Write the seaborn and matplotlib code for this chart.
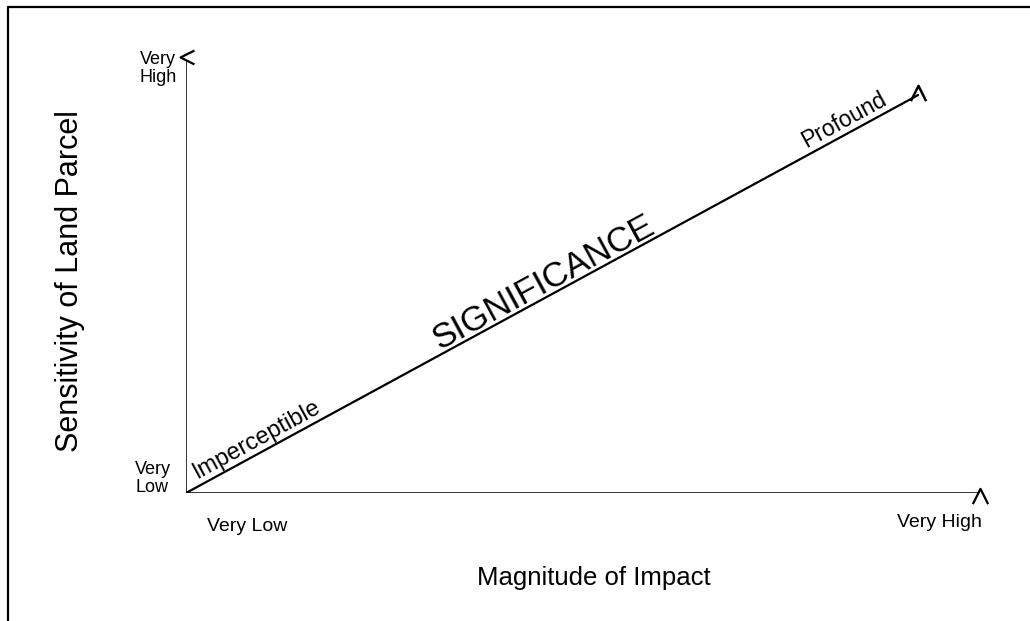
import matplotlib
matplotlib.use('Agg')

import numpy as np
import pandas as pd
import seaborn as sns
import matplotlib.pyplot as plt
from matplotlib.lines import Line2D

# axis ends (magnitude / sensitivity scaled 0..1)
x_axis_x = [0.0, 1.0]
x_axis_y = [0.0, 0.0]
y_axis_x = [0.0, 0.0]
y_axis_y = [0.0, 1.0]
diag_x = [0.0, 0.922]
diag_y = [0.0, 0.919]

x_tick_labels = ["Very Low", "Very High"]
y_tick_labels = ["Very\nLow", "Very\nHigh"]
line_labels = ["Imperceptible", "SIGNIFICANCE", "Profound"]

sns.set_style("white")
plt.rcParams['font.family'] = ['Liberation Sans', 'DejaVu Sans']
plt.rcParams['text.color'] = 'black'

W, H = 1030, 621
fig = plt.figure(figsize=(W / 100, H / 100), dpi=100)
ax = fig.add_axes([186 / W, (H - 493) / H, (980 - 186) / W, (493 - 60) / H])
ax.set_xlim(0, 1)
ax.set_ylim(0, 1)
ax.axis('off')

for xs, ys, w in [(x_axis_x, x_axis_y, 1.1), (y_axis_x, y_axis_y, 1.1), (diag_x, diag_y, 1.6)]:
    sns.lineplot(x=xs, y=ys, ax=ax, color='black', lw=w, sort=False, estimator=None)

# chevron arrow heads
up = [(-1, -1), (0, 1), (1, -1)]
left = [(1, 1), (-1, 0), (1, -1)]
ax.plot(x_axis_x[-1], x_axis_y[-1] - 0.008, marker=up, ms=11, mfc='none',
        mec='black', mew=1.6, clip_on=False)
ax.plot(diag_x[-1], diag_y[-1] + 0.005, marker=up, ms=11, mfc='none',
        mec='black', mew=1.8, clip_on=False)
ax.plot(y_axis_x[-1] + 0.001, y_axis_y[-1] + 0.008, marker=left, ms=10, mfc='none',
        mec='black', mew=1.6, clip_on=False)

# end labels
ax.text(0.077, -0.078, x_tick_labels[0], ha='center', va='center', fontsize=14)
ax.text(0.949, -0.069, x_tick_labels[1], ha='center', va='center', fontsize=14)
ax.text(-0.064, 0.034, y_tick_labels[0], ha='left', va='center', fontsize=13,
        linespacing=1.05)
ax.text(-0.058, 0.98, y_tick_labels[1], ha='left', va='center', fontsize=13,
        linespacing=1.05)

ax.text(0.514, -0.197, "Magnitude of Impact", ha='center', va='center', fontsize=18.5)
ax.text(-0.146, 0.49, "Sensitivity of Land Parcel", ha='center', va='center',
        fontsize=22, rotation=90)

# labels along the diagonal
p0 = ax.transData.transform((diag_x[0], diag_y[0]))
p1 = ax.transData.transform((diag_x[1], diag_y[1]))
ang = np.degrees(np.arctan2(p1[1] - p0[1], p1[0] - p0[0]))
slope = diag_y[1] / diag_x[1]

ax.text(0.017, 0.017 * slope + 0.006, line_labels[0], rotation=ang,
        rotation_mode='anchor', ha='left', va='bottom', fontsize=17)
ax.text(0.45, 0.45 * slope + 0.037, line_labels[1], rotation=ang,
        rotation_mode='anchor', ha='center', va='center', fontsize=25)
ax.text(0.784, 0.784 * slope + 0.006, line_labels[2], rotation=ang,
        rotation_mode='anchor', ha='left', va='bottom', fontsize=16.5)

# frame: top and left edges only
fig.add_artist(Line2D([8 / W, 8 / W, 1.0], [0.0, 1 - 7 / H, 1 - 7 / H],
                      transform=fig.transFigure, color='black', lw=1.6))

fig.savefig("out.png", dpi=100, facecolor='white')
